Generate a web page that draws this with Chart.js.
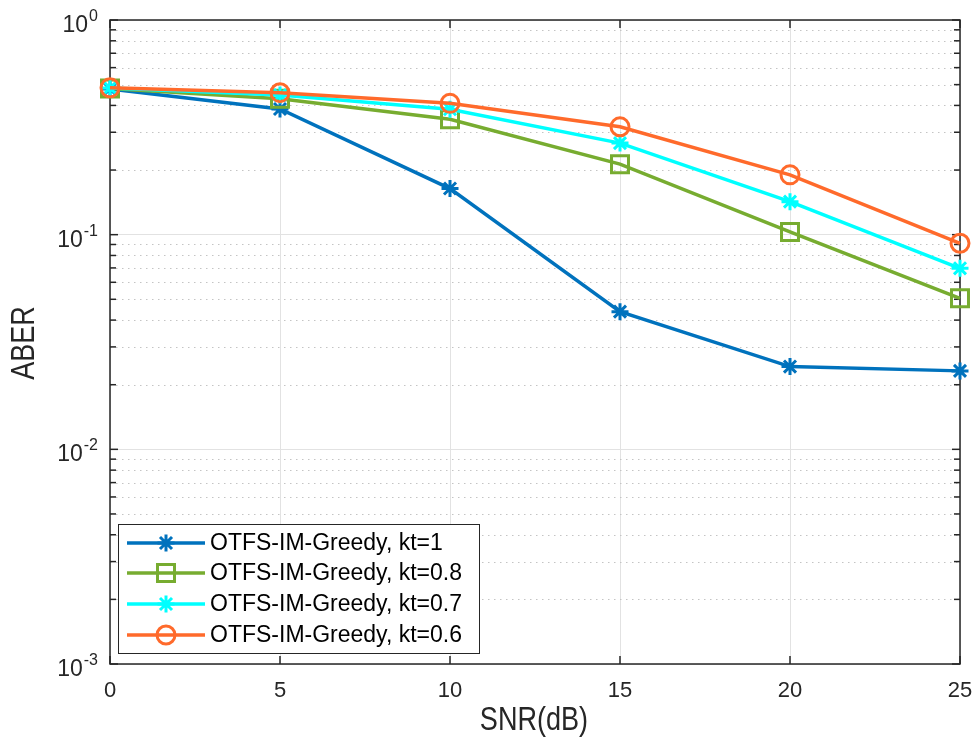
<!DOCTYPE html>
<html>
<head>
<meta charset="utf-8">
<script src="https://cdn.jsdelivr.net/npm/chart.js@4.4.0/dist/chart.umd.min.js"></script>
<style>
  html, body { margin: 0; padding: 0; background: #fff; }
  #wrap { width: 979px; height: 745px; }
</style>
</head>
<body>
<div id="wrap"><canvas id="aber-chart"></canvas></div>
<script>
// data ------
var snr = [0, 5, 10, 15, 20, 25];
var aberKt1 = [0.477, 0.385, 0.164, 0.0438, 0.0243, 0.0232];
var aberKt08 = [0.480, 0.430, 0.345, 0.213, 0.103, 0.0505];
var aberKt07 = [0.482, 0.447, 0.384, 0.267, 0.1425, 0.0697];
var aberKt06 = [0.483, 0.4585, 0.409, 0.318, 0.190, 0.0912];
var seriesLabels = ['OTFS-IM-Greedy, kt=1', 'OTFS-IM-Greedy, kt=0.8', 'OTFS-IM-Greedy, kt=0.7', 'OTFS-IM-Greedy, kt=0.6'];
var xTicks = [0, 5, 10, 15, 20, 25];
var yMajorTicks = [0.001, 0.01, 0.1, 1];
var yTickExponents = ['-3', '-2', '-1', '0'];
var xTitle = 'SNR(dB)';
var yTitle = 'ABER';

// minor ticks 2..9 inside each decade
var yMinorTicks = [];
yMajorTicks.slice(0, -1).forEach(function (m) {
  for (var k = 2; k <= 9; k++) yMinorTicks.push(+(m * k).toPrecision(3));
});

var FONT = "'Liberation Sans', Arial, sans-serif";
var AXIS_COLOR = '#262626';

function pts(ys) {
  return snr.map(function (x, i) { return { x: x, y: ys[i] }; });
}

// marker for the legend, same look as the chart points
function drawMarker(ctx, style, x, y, color) {
  ctx.save();
  ctx.strokeStyle = color;
  ctx.lineWidth = 3;
  ctx.beginPath();
  if (style === 'circle') {
    ctx.arc(x, y, 9, 0, Math.PI * 2);
  } else if (style === 'rect') {
    ctx.rect(x - 8.5, y - 8.5, 17, 17);
  } else {
    var r = 8.5, d = r * Math.SQRT1_2;
    ctx.moveTo(x - r, y); ctx.lineTo(x + r, y);
    ctx.moveTo(x, y - r); ctx.lineTo(x, y + r);
    ctx.moveTo(x - d, y - d); ctx.lineTo(x + d, y + d);
    ctx.moveTo(x - d, y + d); ctx.lineTo(x + d, y - d);
  }
  ctx.stroke();
  ctx.restore();
}

function hline(ctx, x1, x2, y) { ctx.beginPath(); ctx.moveTo(x1, y); ctx.lineTo(x2, y); ctx.stroke(); }
function vline(ctx, x, y1, y2) { ctx.beginPath(); ctx.moveTo(x, y1); ctx.lineTo(x, y2); ctx.stroke(); }

//matlab look axes----------
var matlabAxes = {
  id: 'matlabAxes',
  beforeDatasetsDraw: function (chart) {
    var ctx = chart.ctx, a = chart.chartArea, xs = chart.scales.x, ys = chart.scales.y;
    ctx.save();
    // dotted minor grid
    ctx.strokeStyle = '#c4c4c4';
    ctx.lineWidth = 1;
    ctx.setLineDash([1.5, 4.5]);
    yMinorTicks.forEach(function (v) {
      var py = Math.round(ys.getPixelForValue(v)) + 0.5;
      hline(ctx, a.left, a.right, py);
    });
    ctx.setLineDash([]);

    // box + inner ticks
    ctx.strokeStyle = AXIS_COLOR;
    ctx.lineWidth = 1.5;
    ctx.strokeRect(a.left, a.top, a.right - a.left, a.bottom - a.top);
    yMajorTicks.forEach(function (v) {
      var py = ys.getPixelForValue(v);
      hline(ctx, a.left, a.left + 8, py);
      hline(ctx, a.right - 8, a.right, py);
    });
    yMinorTicks.forEach(function (v) {
      var py = ys.getPixelForValue(v);
      hline(ctx, a.left, a.left + 6, py);
      hline(ctx, a.right - 6, a.right, py);
    });
    xTicks.forEach(function (v) {
      var px = xs.getPixelForValue(v);
      vline(ctx, px, a.bottom, a.bottom - 8);
      vline(ctx, px, a.top, a.top + 8);
    });
    ctx.restore();
  },
  afterDraw: function (chart) {
    var ctx = chart.ctx, a = chart.chartArea, ys = chart.scales.y;
    ctx.save();
    ctx.fillStyle = AXIS_COLOR;

    // y tick labels 10^n
    ctx.textAlign = 'right';
    ctx.textBaseline = 'alphabetic';
    yMajorTicks.forEach(function (v, i) {
      var py = ys.getPixelForValue(v);
      ctx.font = '16px ' + FONT;
      var ew = ctx.measureText(yTickExponents[i]).width;
      ctx.fillText(yTickExponents[i], a.left - 12, py + 1);
      ctx.font = '23px ' + FONT;
      ctx.fillText('10', a.left - 13 - ew, py + 12);
    });

    // axis titles (narrow)
    ctx.font = '33px ' + FONT;
    ctx.textAlign = 'center';
    ctx.textBaseline = 'middle';
    ctx.save();
    ctx.translate(534, 721);
    ctx.scale(0.82, 1);
    ctx.fillText(xTitle, 0, 0);
    ctx.restore();
    ctx.save();
    ctx.translate(25, 343);
    ctx.rotate(-Math.PI / 2);
    ctx.scale(0.82, 1);
    ctx.fillText(yTitle, 0, 0);
    ctx.restore();

    // legend box
    var bx = 118, by = 524, bw = 361, bh = 129;
    ctx.fillStyle = '#fff';
    ctx.fillRect(bx, by, bw, bh);
    ctx.strokeStyle = AXIS_COLOR;
    ctx.lineWidth = 1;
    ctx.strokeRect(bx + 0.5, by + 0.5, bw, bh);
    var rowY = [543, 573, 604, 635];
    ctx.font = '23px ' + FONT;
    ctx.textAlign = 'left';
    ctx.textBaseline = 'middle';
    chart.data.datasets.forEach(function (ds, i) {
      var yy = rowY[i];
      ctx.strokeStyle = ds.borderColor;
      ctx.lineWidth = 3.5;
      hline(ctx, 127, 205, yy);
      drawMarker(ctx, ds.pointStyle, 166, yy, ds.borderColor);
      ctx.fillStyle = '#000';
      ctx.fillText(ds.label, 210, yy + 1);
    });
    ctx.restore();
  }
};

function series(label, data, color, style, radius, order) {
  return {
    label: label,
    data: pts(data),
    borderColor: color,
    backgroundColor: color,
    borderWidth: 3.5,
    pointStyle: style,
    pointRadius: radius,
    pointHoverRadius: radius,
    pointBorderWidth: 3,
    pointBorderColor: color,
    pointBackgroundColor: 'rgba(0,0,0,0)',
    tension: 0,
    fill: false,
    clip: false,
    order: order
  };
}

var ctx = document.getElementById('aber-chart').getContext('2d');

new Chart(ctx, {
  type: 'line',
  data: {
    datasets: [
      series(seriesLabels[0], aberKt1, '#0072BD', 'star', 8.5, 3),
      series(seriesLabels[1], aberKt08, '#77AC30', 'rect', 12, 2),
      series(seriesLabels[2], aberKt07, '#00FFFF', 'star', 8.5, 1),
      series(seriesLabels[3], aberKt06, '#FF6A2B', 'circle', 9, 0)
    ]
  },
  options: {
    responsive: true,
    maintainAspectRatio: false,
    animation: false,
    layout: { padding: { top: 20, right: 19, left: 0, bottom: 0 } },
    plugins: {
      legend: { display: false },
      tooltip: { enabled: false }
    },
    scales: {
      x: {
        type: 'linear',
        min: 0,
        max: 25,
        afterBuildTicks: function (scale) {
          scale.ticks = xTicks.map(function (v) { return { value: v }; });
        },
        afterFit: function (scale) {
          scale.height = 81;
          scale.paddingLeft = 0;
          scale.paddingRight = 0;
        },
        ticks: {
          color: AXIS_COLOR,
          font: { family: FONT, size: 22 },
          padding: 14,
          maxRotation: 0
        },
        grid: { color: '#e2e2e2', lineWidth: 1, drawTicks: false },
        border: { display: false }
      },
      y: {
        type: 'logarithmic',
        min: 0.001,
        max: 1,
        afterBuildTicks: function (scale) {
          scale.ticks = yMajorTicks.map(function (v) { return { value: v, major: true }; });
        },
        afterFit: function (scale) { scale.width = 110; },
        ticks: { display: false },
        grid: { color: '#e2e2e2', lineWidth: 1, drawTicks: false },
        border: { display: false }
      }
    }
  },
  plugins: [matlabAxes]
});
</script>
</body>
</html>
